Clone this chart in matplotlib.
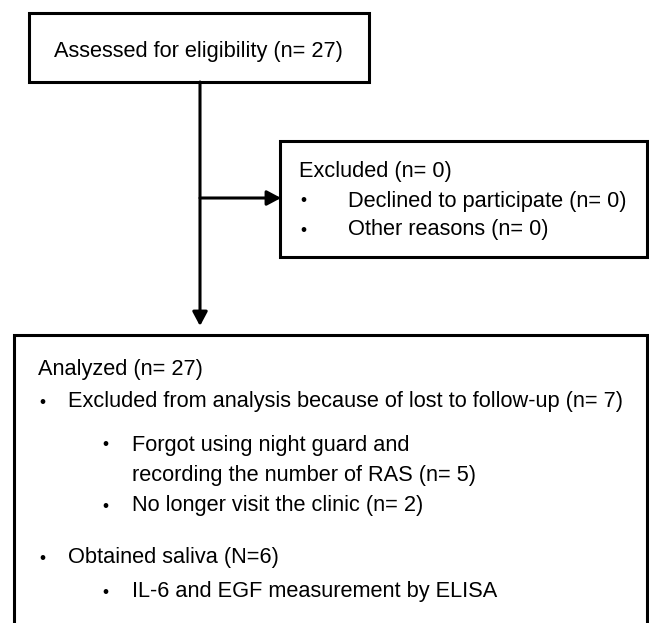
import matplotlib.pyplot as plt
from matplotlib.patches import Rectangle, FancyArrowPatch

plt.rcParams['font.family'] = ['Liberation Sans', 'DejaVu Sans']

# Box texts
top_text = 'Assessed for eligibility (n= 27)'
excl_title = 'Excluded (n= 0)'
excl_items = ['Declined to participate (n= 0)', 'Other reasons (n= 0)']
anal_title = 'Analyzed (n= 27)'
# (indent level, bullet?, text)
anal_lines = [
    (0, True, 'Excluded from analysis because of lost to follow-up (n= 7)'),
    (1, True, 'Forgot using night guard and'),
    (1, False, 'recording the number of RAS (n= 5)'),
    (1, True, 'No longer visit the clinic (n= 2)'),
    (0, True, 'Obtained saliva (N=6)'),
    (1, True, 'IL-6 and EGF measurement by ELISA'),
]
anal_y = [402, 445, 476, 506, 558, 592]

W, H = 649, 623
fig = plt.figure(figsize=(W / 100, H / 100), dpi=100)
ax = fig.add_axes([0, 0, 1, 1])
ax.set_xlim(0, W)
ax.set_ylim(H, 0)
ax.axis('off')

lw = 2.2
fs = 15.7

# Top box
ax.add_patch(Rectangle((29, 13), 340, 69, fill=False, lw=lw, ec='black'))
ax.text(198, 51, top_text, fontsize=fs, ha='center', va='center')

# Excluded box
ax.add_patch(Rectangle((280, 141), 367, 116, fill=False, lw=lw, ec='black'))
ax.text(299, 171, excl_title, fontsize=fs, ha='left', va='center')
for i, item in enumerate(excl_items):
    y = 201 + i * 29
    ax.text(303, y, '\u2022', fontsize=fs * 0.8, ha='center', va='center')
    ax.text(348, y, item, fontsize=fs, ha='left', va='center')

# Bottom box (cut off at bottom)
ax.plot([14, 14, 647, 647], [H + 5, 335, 335, H + 5], color='black', lw=lw,
        solid_joinstyle='miter')
ax.text(38, 369, anal_title, fontsize=fs, ha='left', va='center')
for (lvl, bul, txt), y in zip(anal_lines, anal_y):
    bx = 42 + lvl * 63
    tx = 68 + lvl * 64
    if bul:
        ax.text(bx, y, '\u2022', fontsize=fs * 0.8, ha='center', va='center')
    ax.text(tx, y, txt, fontsize=fs, ha='left', va='center')

# Connectors
arrow = '-|>,head_length=6,head_width=3.2'
ax.add_patch(FancyArrowPatch((200, 82), (200, 326), arrowstyle=arrow,
                             mutation_scale=1.4, lw=lw, color='black', shrinkA=0, shrinkB=0))
ax.add_patch(FancyArrowPatch((200, 198), (281, 198), arrowstyle=arrow,
                             mutation_scale=1.4, lw=lw, color='black', shrinkA=0, shrinkB=0))

fig.savefig('out.png', dpi=100)
